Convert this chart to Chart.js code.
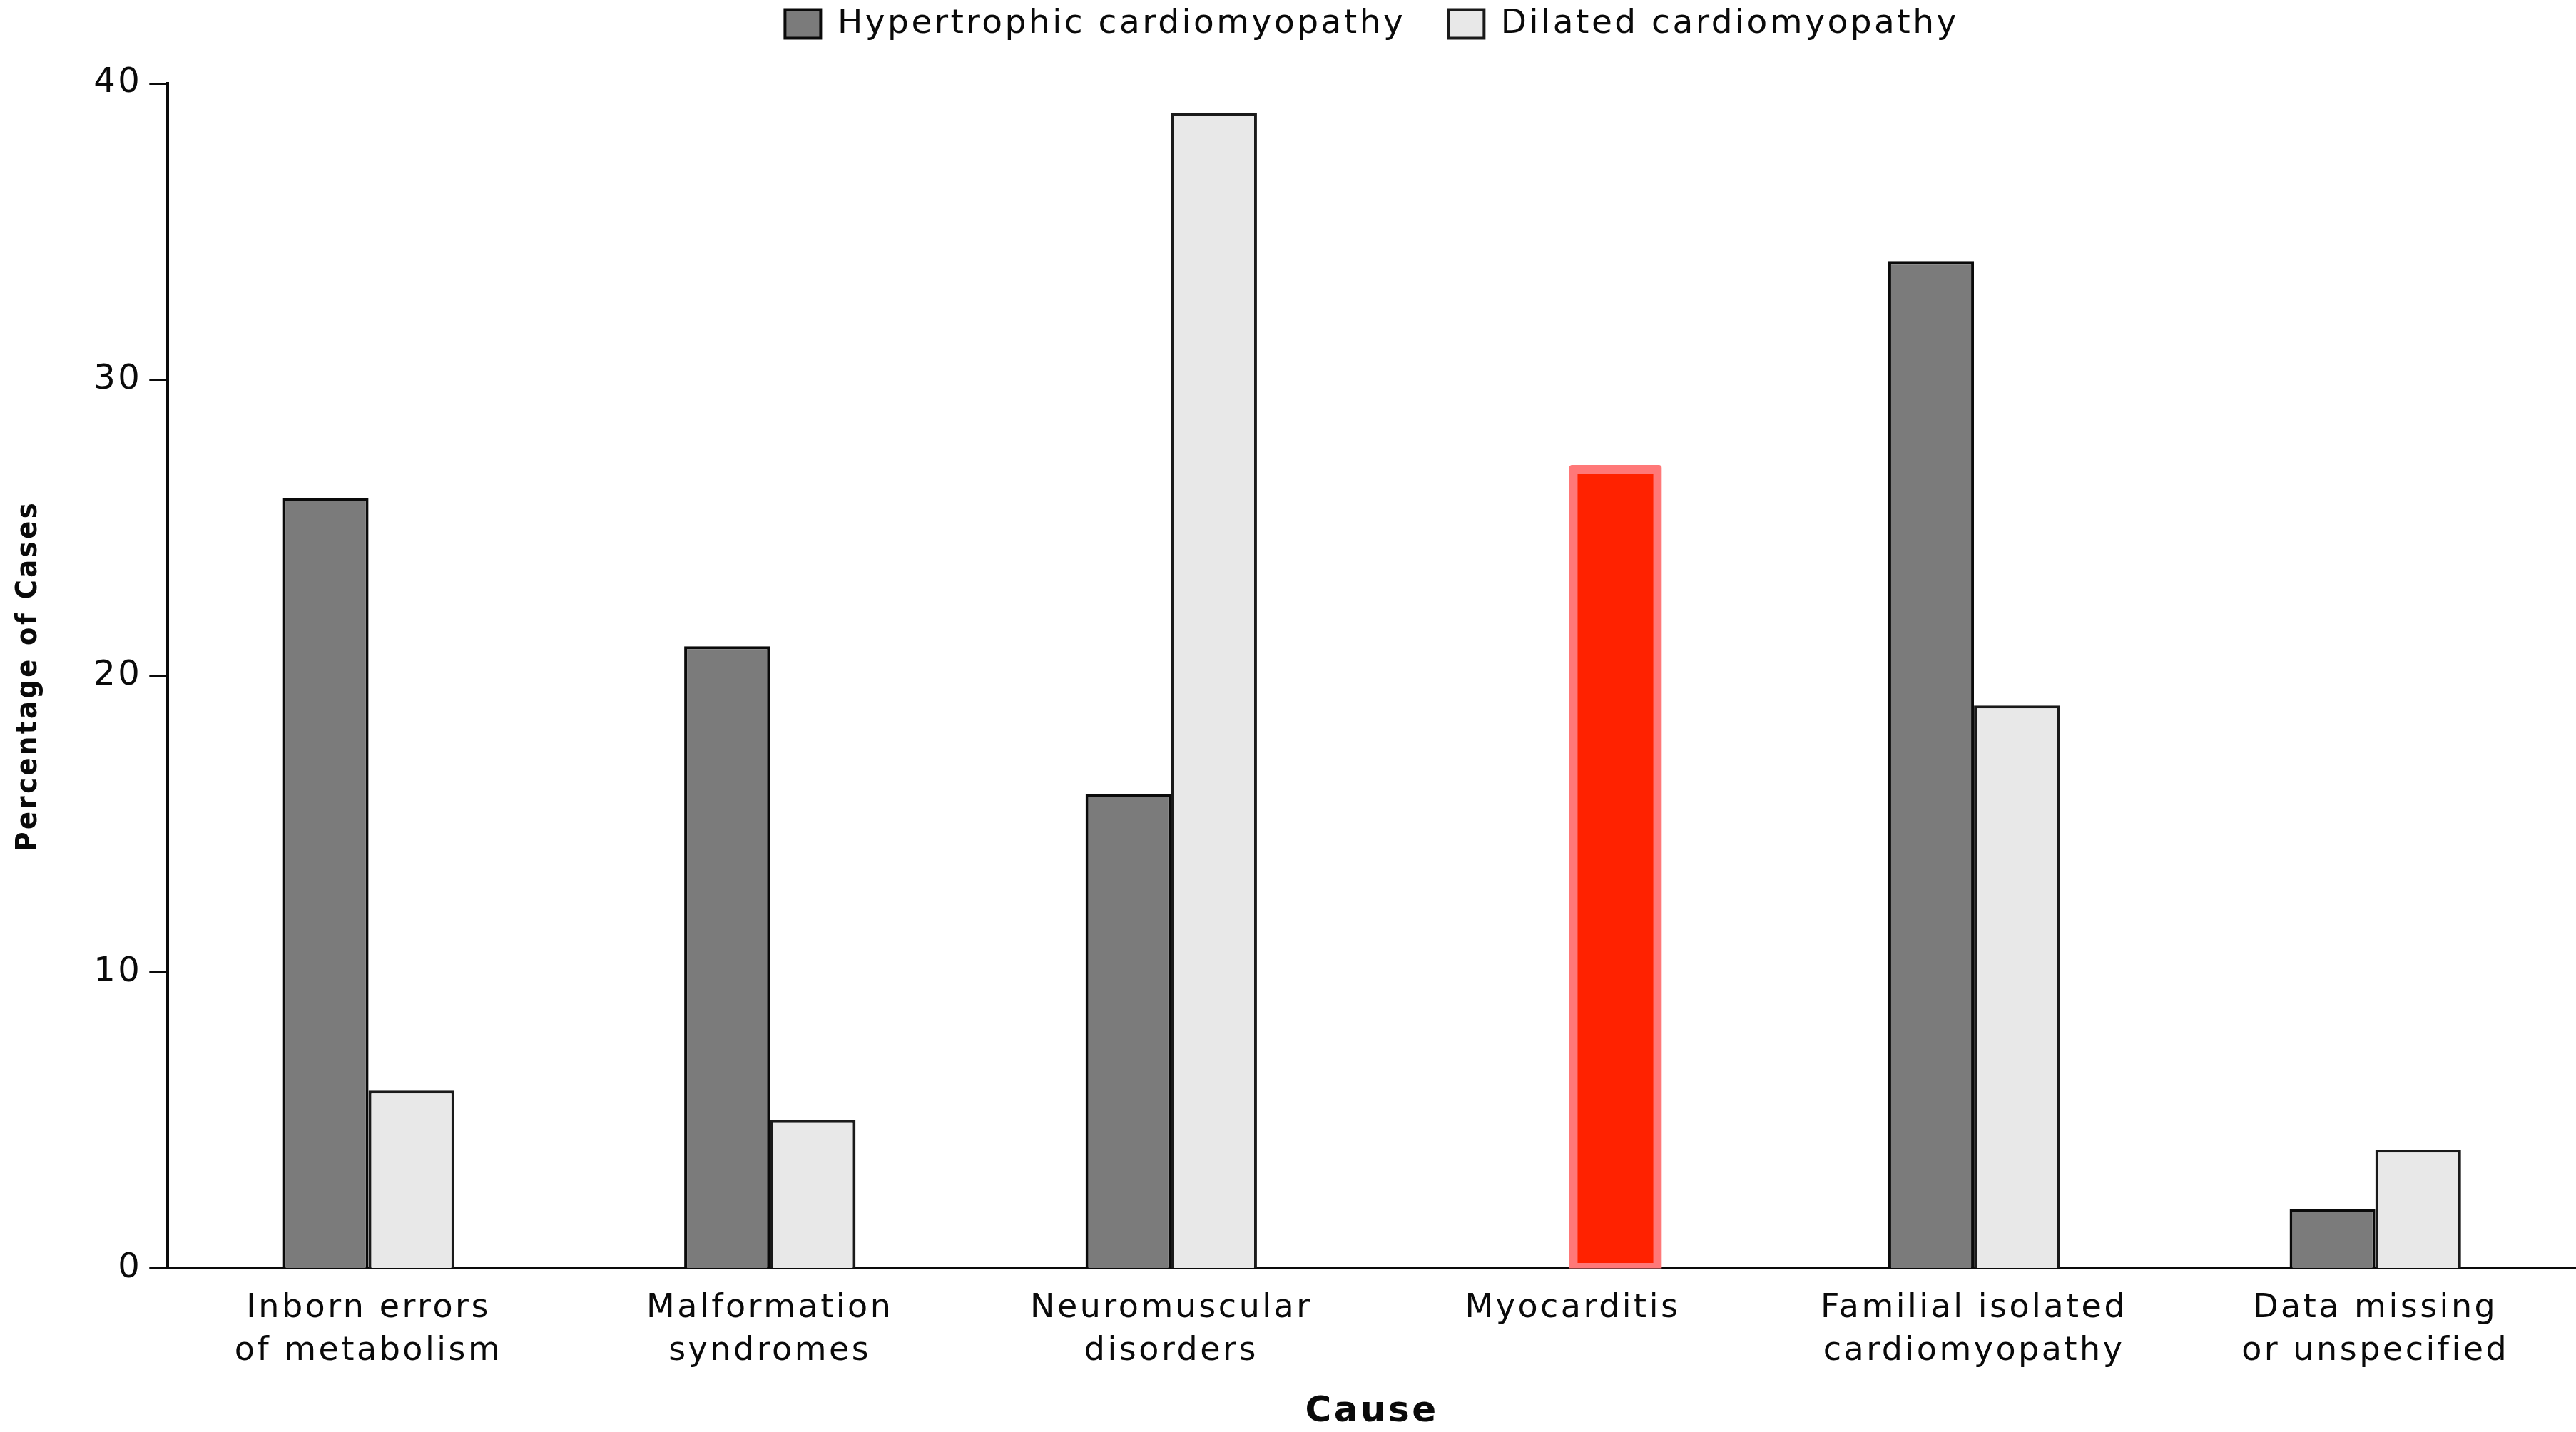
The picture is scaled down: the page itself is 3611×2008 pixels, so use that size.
<!DOCTYPE html>
<html>
<head>
<meta charset="utf-8">
<title>Causes of cardiomyopathy</title>
<script src="https://cdn.jsdelivr.net/npm/chart.js@4.4.1/dist/chart.umd.min.js"></script>
<style>
  html, body { margin: 0; padding: 0; background: #ffffff; }
  #wrap { width: 3611px; height: 2008px; position: relative; }
</style>
</head>
<body>
<div id="wrap"><canvas id="chart"></canvas></div>
<script>
// Categories (two-line tick labels)
const causes = [
  ['Inborn errors', 'of metabolism'],
  ['Malformation', 'syndromes'],
  ['Neuromuscular', 'disorders'],
  ['Myocarditis'],
  ['Familial isolated', 'cardiomyopathy'],
  ['Data missing', 'or unspecified']
];

// Percentage of cases per cause
const hypertrophic = [26, 21, 16, 0, 34, 2];
const dilated = [6, 5, 39, 27, 19, 4];

// Y-axis tick values
const yTicks = [0, 10, 20, 30, 40];

// Cause whose dilated bar is emphasised
const emphasisedCause = 'Myocarditis';

const INK = '#0a0a0a';
const FONT = "'DejaVu Sans', sans-serif";
const isEmphasised = (ctx) => causes[ctx.dataIndex] && causes[ctx.dataIndex][0] === emphasisedCause;

// Slightly wider tracking for all canvas text
const tracking = {
  id: 'tracking',
  beforeLayout(chart) { chart.ctx.letterSpacing = '3.5px'; },
  beforeDraw(chart) { chart.ctx.letterSpacing = '3.5px'; }
};

new Chart(document.getElementById('chart'), {
  type: 'bar',
  data: {
    labels: causes,
    datasets: [
      {
        label: 'Hypertrophic cardiomyopathy',
        data: hypertrophic,
        backgroundColor: '#7b7b7b',
        borderColor: INK,
        borderWidth: 4
      },
      {
        label: 'Dilated cardiomyopathy',
        data: dilated,
        backgroundColor: (ctx) => isEmphasised(ctx) ? '#ff2200' : '#e8e8e8',
        borderColor: (ctx) => isEmphasised(ctx) ? '#ff7878' : '#1a1a1a',
        borderWidth: (ctx) => isEmphasised(ctx) ? 12 : 4,
        borderSkipped: (ctx) => isEmphasised(ctx) ? false : 'start',
        borderRadius: (ctx) => isEmphasised(ctx) ? 4 : 0,
        inflateAmount: (ctx) => isEmphasised(ctx) ? 5 : 0
      }
    ]
  },
  options: {
    responsive: true,
    maintainAspectRatio: false,
    devicePixelRatio: 1,
    animation: false,
    datasets: {
      bar: { categoryPercentage: 0.427, barPercentage: 1.0 }
    },
    layout: { padding: { top: -50, right: 0, bottom: 0, left: 0 } },
    plugins: {
      legend: {
        position: 'top',
        fullSize: false,
        labels: {
          color: INK,
          font: { family: FONT, size: 47 },
          boxWidth: 50,
          boxHeight: 40,
          padding: 60
        }
      },
      // empty spacer between legend and plot
      title: {
        display: true,
        text: '',
        position: 'top',
        fullSize: false,
        weight: 10,
        padding: 0,
        font: { size: 50, lineHeight: 1 }
      },
      tooltip: { enabled: false }
    },
    scales: {
      x: {
        grid: { display: false, drawTicks: false },
        border: { display: true, color: INK, width: 4 },
        ticks: {
          color: INK,
          font: { family: FONT, size: 46, lineHeight: 1.3 },
          padding: 27,
          maxRotation: 0,
          autoSkip: false
        },
        title: {
          display: true,
          text: 'Cause',
          color: INK,
          font: { family: FONT, size: 50, weight: 'bold', lineHeight: 1.12 },
          padding: { top: 0, bottom: 0 }
        }
      },
      y: {
        min: 0,
        max: 40,
        afterBuildTicks: (scale) => { scale.ticks = yTicks.map(v => ({ value: v })); },
        border: { display: true, color: INK, width: 4 },
        grid: { drawOnChartArea: false, drawTicks: true, tickLength: 26, tickWidth: 3, tickColor: INK },
        ticks: {
          color: INK,
          font: { family: FONT, size: 48 },
          padding: 10
        },
        title: {
          display: true,
          text: 'Percentage of Cases',
          color: INK,
          font: { family: "'DejaVu Sans Condensed', 'Liberation Sans Narrow', sans-serif", size: 41, weight: 'bold', lineHeight: 1.2 },
          padding: { top: 16, bottom: 56 }
        }
      }
    }
  },
  plugins: [tracking]
});
</script>
</body>
</html>
